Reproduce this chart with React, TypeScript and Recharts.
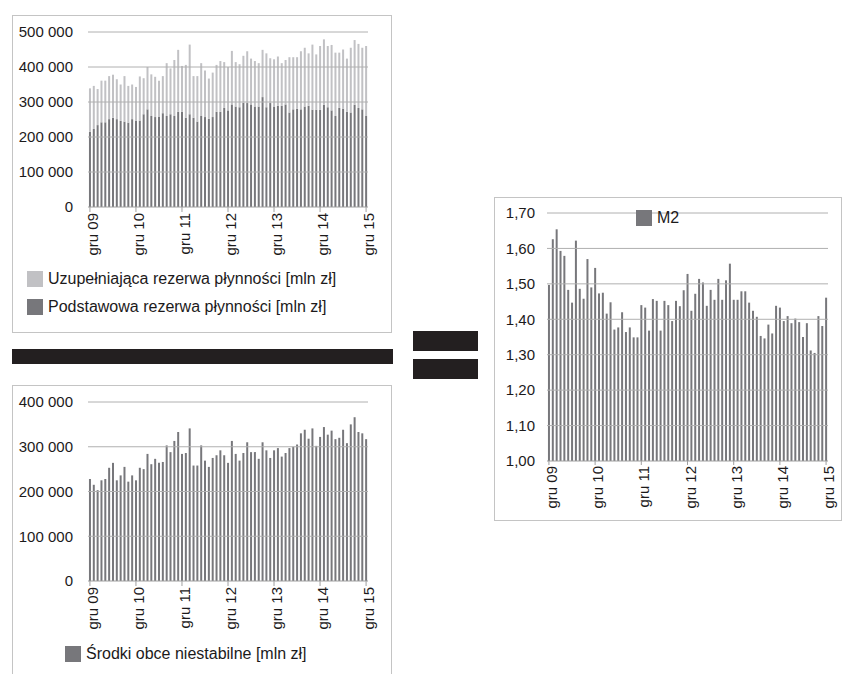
import React from "react";
import {
  BarChart,
  Bar,
  XAxis,
  YAxis,
  Legend,
  ReferenceLine,
} from "recharts";

const FONT = '"Liberation Sans", Arial, Helvetica, sans-serif';
const TEXT = "#1c1a1b";
const DARK = "#77777b";
const LIGHT = "#c1c1c4";
const GRID = "#b0b0b0";
const BORDER = "#c4c4c4";

// months Dec 2009 .. Dec 2015
const monthNames = ["sty", "lut", "mar", "kwi", "maj", "cze", "lip", "sie", "wrz", "paź", "lis", "gru"];
const months: string[] = [];
for (let i = 0; i < 73; i++) {
  const m = (11 + i) % 12;
  const y = 9 + Math.floor((11 + i) / 12);
  months.push(`${monthNames[m]} ${String(y).padStart(2, "0")}`);
}

// [mln zł]
const podstawowa = [
  215000, 223000, 234000, 242000, 242000, 251000, 255000, 251000, 246000, 244000,
  241000, 251000, 247000, 247000, 265000, 279000, 260000, 257000, 257000, 268000,
  260000, 265000, 260000, 272000, 272000, 255000, 265000, 255000, 244000, 260000,
  257000, 252000, 257000, 272000, 272000, 283000, 276000, 293000, 287000, 285000,
  298000, 297000, 293000, 287000, 287000, 314000, 285000, 297000, 287000, 289000,
  289000, 293000, 270000, 279000, 281000, 279000, 287000, 289000, 278000, 278000,
  278000, 292000, 285000, 276000, 260000, 283000, 281000, 272000, 270000, 292000,
  283000, 279000, 260000,
];

const uzupelniajaca = [
  124000, 123000, 103000, 119000, 119000, 123000, 123000, 114000, 104000, 130000,
  105000, 99000, 96000, 126000, 103000, 121000, 119000, 115000, 104000, 106000,
  151000, 131000, 160000, 177000, 131000, 151000, 199000, 119000, 130000, 151000,
  133000, 115000, 127000, 134000, 145000, 131000, 124000, 153000, 127000, 123000,
  134000, 148000, 131000, 130000, 124000, 135000, 154000, 128000, 135000, 141000,
  122000, 127000, 158000, 149000, 147000, 166000, 168000, 150000, 186000, 158000,
  182000, 187000, 175000, 187000, 181000, 158000, 169000, 152000, 185000, 185000,
  183000, 176000, 200000,
];

const srodkiObce = [
  228000, 215000, 203000, 225000, 228000, 253000, 264000, 225000, 236000, 255000,
  222000, 236000, 225000, 253000, 250000, 284000, 261000, 273000, 264000, 266000,
  303000, 288000, 313000, 333000, 284000, 286000, 341000, 258000, 258000, 303000,
  269000, 255000, 275000, 281000, 292000, 281000, 264000, 313000, 284000, 269000,
  286000, 310000, 288000, 288000, 273000, 310000, 292000, 275000, 292000, 297000,
  278000, 286000, 297000, 300000, 305000, 330000, 338000, 318000, 341000, 302000,
  322000, 344000, 327000, 336000, 317000, 320000, 338000, 308000, 350000, 366000,
  333000, 330000, 317000,
];

const m2 = [
  1.497, 1.626, 1.654, 1.593, 1.579, 1.483, 1.447, 1.622, 1.486, 1.458,
  1.570, 1.490, 1.545, 1.473, 1.475, 1.416, 1.448, 1.371, 1.377, 1.420,
  1.364, 1.377, 1.349, 1.349, 1.440, 1.433, 1.368, 1.457, 1.452, 1.368,
  1.452, 1.440, 1.395, 1.452, 1.437, 1.482, 1.528, 1.424, 1.472, 1.514,
  1.504, 1.438, 1.483, 1.455, 1.514, 1.455, 1.510, 1.557, 1.455, 1.455,
  1.479, 1.479, 1.447, 1.424, 1.407, 1.353, 1.346, 1.385, 1.360, 1.438,
  1.433, 1.395, 1.409, 1.389, 1.402, 1.392, 1.350, 1.389, 1.312, 1.305,
  1.409, 1.381, 1.461,
];

const reserveTicks = [0, 100000, 200000, 300000, 400000, 500000];
const srodkiTicks = [0, 100000, 200000, 300000, 400000];
const m2Ticks = [1.0, 1.1, 1.2, 1.3, 1.4, 1.5, 1.6, 1.7];

const reserveData = months.map((m, i) => ({
  month: m,
  podstawowa: podstawowa[i],
  uzupelniajaca: uzupelniajaca[i],
}));
const srodkiData = months.map((m, i) => ({ month: m, srodki: srodkiObce[i] }));
const m2Data = months.map((m, i) => ({ month: m, m2: m2[i] }));

const fmtThousands = (v: number) => String(v).replace(/\B(?=(\d{3})+(?!\d))/g, " ");
const fmtRatio = (v: number) => v.toFixed(2).replace(".", ",");

const tickStyle = { fontSize: 15, fill: TEXT, fontFamily: FONT };

function MonthTick({ x, y, payload }: any) {
  return (
    <g transform={`translate(${x},${y})`}>
      <text transform="rotate(-90)" textAnchor="end" dy={8} fontSize={15} fill={TEXT} fontFamily={FONT}>
        {payload.value}
      </text>
    </g>
  );
}

function makeLegend(reverse: boolean) {
  return function LegendBox({ payload }: any) {
    const items = reverse ? [...(payload || [])].reverse() : payload || [];
    return (
      <div style={{ fontFamily: FONT, fontSize: 16, color: TEXT }}>
        {items.map((it: any) => (
          <div key={it.value} style={{ display: "flex", alignItems: "center", height: 28, whiteSpace: "nowrap" }}>
            <span style={{ width: 16, height: 16, background: it.color, marginRight: 5, display: "inline-block" }} />
            <span>{it.value}</span>
          </div>
        ))}
      </div>
    );
  };
}

const abs = (left: number, top: number, width: number, height: number): React.CSSProperties => ({
  position: "absolute",
  left,
  top,
  width,
  height,
});

export default function App() {
  return (
    <div style={{ ...abs(0, 0, 843, 674), overflow: "hidden", background: "#fff" }}>
      {/* boxes */}
      <div style={{ ...abs(12, 15, 380, 318), border: `1px solid ${BORDER}`, boxSizing: "border-box" }} />
      <div style={{ ...abs(12, 385, 380, 300), border: `1px solid ${BORDER}`, boxSizing: "border-box" }} />
      <div style={{ ...abs(494, 197, 348, 324), border: `1px solid ${BORDER}`, boxSizing: "border-box" }} />

      {/* fraction bar and equals sign */}
      <div style={{ ...abs(12, 349, 381, 15), background: "#231f20" }} />
      <div style={{ ...abs(413, 331, 65, 20), background: "#231f20" }} />
      <div style={{ ...abs(413, 359, 65, 20), background: "#231f20" }} />

      {/* liquidity reserve */}
      <div style={abs(12, 15, 380, 318)}>
        <BarChart
          width={380}
          height={318}
          data={reserveData}
          margin={{ top: 17, right: 24, left: 16, bottom: 76 }}
          barCategoryGap="25%"
        >
          <XAxis
            dataKey="month"
            interval={11}
            height={50}
            tick={<MonthTick />}
            tickSize={5}
            tickMargin={1}
            stroke="#a0a0a0"
          />
          <YAxis
            domain={[0, 500000]}
            ticks={reserveTicks}
            tickFormatter={fmtThousands}
            axisLine={false}
            tickLine={false}
            tickSize={0}
            tickMargin={15}
            tick={tickStyle}
            width={60}
          />
          <Bar dataKey="podstawowa" name="Podstawowa rezerwa płynności [mln zł]" stackId="a" fill={DARK} isAnimationActive={false} />
          <Bar dataKey="uzupelniajaca" name="Uzupełniająca rezerwa płynności [mln zł]" stackId="a" fill={LIGHT} isAnimationActive={false} />
          {reserveTicks.slice(1).map((t) => (
            <ReferenceLine key={t} y={t} stroke={GRID} strokeWidth={1} />
          ))}
          <Legend
            layout="horizontal"
            verticalAlign="middle"
            content={makeLegend(true)}
            wrapperStyle={{ top: 250, left: 15, width: 360 }}
          />
        </BarChart>
      </div>

      {/* foreign funds */}
      <div style={abs(12, 385, 380, 289)}>
        <BarChart
          width={380}
          height={289}
          data={srodkiData}
          margin={{ top: 17, right: 24, left: 16, bottom: 43 }}
          barCategoryGap="25%"
        >
          <XAxis
            dataKey="month"
            interval={11}
            height={50}
            tick={<MonthTick />}
            tickSize={5}
            tickMargin={1}
            stroke="#a0a0a0"
          />
          <YAxis
            domain={[0, 400000]}
            ticks={srodkiTicks}
            tickFormatter={fmtThousands}
            axisLine={false}
            tickLine={false}
            tickSize={0}
            tickMargin={15}
            tick={tickStyle}
            width={60}
          />
          <Bar dataKey="srodki" name="Środki obce niestabilne [mln zł]" fill={DARK} isAnimationActive={false} />
          {srodkiTicks.slice(1).map((t) => (
            <ReferenceLine key={t} y={t} stroke={GRID} strokeWidth={1} />
          ))}
          <Legend
            layout="horizontal"
            verticalAlign="middle"
            content={makeLegend(false)}
            wrapperStyle={{ top: 255, left: 53, width: 320 }}
          />
        </BarChart>
      </div>

      {/* M2 ratio */}
      <div style={abs(495, 197, 346, 323)}>
        <BarChart
          width={346}
          height={323}
          data={m2Data}
          margin={{ top: 16, right: 13, left: 12, bottom: 9 }}
          barCategoryGap="25%"
        >
          <XAxis
            dataKey="month"
            interval={11}
            height={50}
            tick={<MonthTick />}
            tickSize={4}
            tickMargin={1}
            stroke="#a0a0a0"
          />
          <YAxis
            domain={[1.0, 1.7]}
            ticks={m2Ticks}
            tickFormatter={fmtRatio}
            axisLine={false}
            tickLine={false}
            tickSize={0}
            tickMargin={12}
            tick={tickStyle}
            width={40}
            allowDataOverflow
          />
          <Bar dataKey="m2" name="M2" fill={DARK} isAnimationActive={false} />
          {m2Ticks.slice(1).map((t) => (
            <ReferenceLine key={t} y={t} stroke={GRID} strokeWidth={1} />
          ))}
          <Legend
            layout="horizontal"
            verticalAlign="middle"
            content={makeLegend(false)}
            wrapperStyle={{ top: 7, left: 141, width: 100 }}
          />
        </BarChart>
      </div>
    </div>
  );
}
